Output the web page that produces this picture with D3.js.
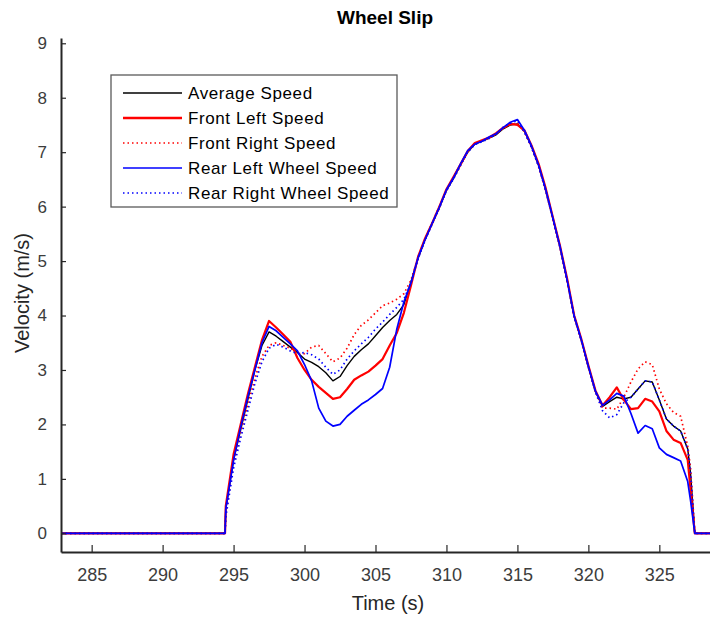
<!DOCTYPE html>
<html>
<head>
<meta charset="utf-8">
<script src="https://cdn.jsdelivr.net/npm/d3@7/dist/d3.min.js"></script>
<style>
  html, body { margin: 0; padding: 0; background: #fff; }
  svg { display: block; font-family: "Liberation Sans", Arial, sans-serif; }
</style>
</head>
<body>
<svg id="chart" width="710" height="622"></svg>
<script>
// ---- data ----
const seriesNames = ["Average Speed", "Front Left Speed", "Front Right Speed", "Rear Left Wheel Speed", "Rear Right Wheel Speed"];
const xTicks = [285, 290, 295, 300, 305, 310, 315, 320, 325];
const yTicks = [0, 1, 2, 3, 4, 5, 6, 7, 8, 9];

const time = [282.84, 294.4, 294.45, 295, 295.5, 296, 296.5, 297, 297.5, 298, 298.5, 299, 299.5,
  300, 300.5, 301, 301.5, 302, 302.5, 303, 303.5, 304, 304.5, 305, 305.5, 306, 306.5, 307, 307.5,
  308, 308.5, 309, 309.5, 310, 310.5, 311, 311.5, 312, 312.5, 313, 313.5, 314, 314.5, 315, 315.5,
  316, 316.5, 317, 317.5, 318, 318.5, 319, 319.5, 320, 320.5, 321, 321.5, 322, 322.5, 323, 323.5,
  324, 324.5, 325, 325.5, 326, 326.5, 327, 327.2, 327.5, 328.57];

const averageSpeed = [0, 0, 0.45, 1.35, 1.9, 2.45, 3.0, 3.45, 3.7, 3.62, 3.52, 3.42, 3.32,
  3.2, 3.14, 3.06, 2.95, 2.8, 2.88, 3.08, 3.25, 3.37, 3.48, 3.63, 3.78, 3.91, 4.02, 4.2, 4.62,
  5.05, 5.4, 5.69, 5.98, 6.3, 6.52, 6.77, 7.0, 7.15, 7.2, 7.26, 7.32, 7.43, 7.5, 7.52, 7.38,
  7.1, 6.75, 6.3, 5.78, 5.26, 4.65, 3.98, 3.55, 3.06, 2.6, 2.33, 2.42, 2.5, 2.47, 2.5, 2.65,
  2.8, 2.78, 2.45, 2.1, 1.97, 1.88, 1.55, 1.1, 0, 0];

const frontLeft = [0, 0, 0.5, 1.45, 2.0, 2.55, 3.05, 3.55, 3.9, 3.78, 3.65, 3.52, 3.22,
  3.0, 2.82, 2.69, 2.58, 2.47, 2.5, 2.65, 2.82, 2.9, 2.97, 3.08, 3.2, 3.45, 3.68, 4.05, 4.55,
  5.08, 5.42, 5.7, 6.0, 6.32, 6.55, 6.78, 7.02, 7.17, 7.22, 7.27, 7.35, 7.45, 7.52, 7.5, 7.4,
  7.12, 6.78, 6.33, 5.8, 5.28, 4.68, 4.0, 3.57, 3.08, 2.62, 2.35, 2.5, 2.68, 2.45, 2.28, 2.3,
  2.47, 2.42, 2.24, 1.88, 1.72, 1.66, 1.35, 0.8, 0, 0];

const frontRight = [0, 0, 0.35, 1.3, 1.85, 2.35, 2.85, 3.25, 3.45, 3.5, 3.45, 3.4, 3.3,
  3.3, 3.42, 3.45, 3.3, 3.15, 3.22, 3.4, 3.65, 3.82, 3.92, 4.05, 4.18, 4.23, 4.3, 4.4, 4.65,
  5.07, 5.41, 5.71, 6.0, 6.3, 6.54, 6.78, 7.01, 7.16, 7.21, 7.26, 7.33, 7.44, 7.5, 7.54, 7.37,
  7.09, 6.74, 6.28, 5.77, 5.25, 4.64, 3.98, 3.54, 3.05, 2.6, 2.3, 2.3, 2.28, 2.5, 2.78, 3.02,
  3.15, 3.1, 2.65, 2.38, 2.22, 2.15, 1.6, 1.2, 0, 0];

const rearLeft = [0, 0, 0.45, 1.35, 1.95, 2.5, 3.0, 3.5, 3.8, 3.72, 3.6, 3.48, 3.35,
  3.1, 2.8, 2.3, 2.06, 1.97, 2.0, 2.15, 2.26, 2.37, 2.45, 2.55, 2.66, 3.05, 3.75, 4.25, 4.6,
  5.06, 5.4, 5.7, 5.99, 6.31, 6.53, 6.79, 7.03, 7.15, 7.2, 7.28, 7.34, 7.45, 7.55, 7.6, 7.4,
  7.11, 6.76, 6.31, 5.79, 5.27, 4.66, 3.99, 3.56, 3.07, 2.61, 2.35, 2.45, 2.57, 2.52, 2.2, 1.84,
  1.98, 1.92, 1.57, 1.45, 1.39, 1.33, 0.95, 0.6, 0, 0];

const rearRight = [0, 0, 0.3, 1.2, 1.75, 2.25, 2.75, 3.15, 3.4, 3.47, 3.42, 3.35, 3.3,
  3.32, 3.28, 3.2, 3.05, 2.92, 3.0, 3.2, 3.35, 3.48, 3.6, 3.75, 3.88, 4.02, 4.15, 4.3, 4.6,
  5.04, 5.39, 5.68, 5.97, 6.29, 6.51, 6.76, 7.0, 7.14, 7.19, 7.25, 7.33, 7.46, 7.53, 7.58, 7.36,
  7.08, 6.73, 6.29, 5.77, 5.25, 4.64, 3.97, 3.54, 3.05, 2.59, 2.25, 2.12, 2.18, 2.4, 2.5, 2.65,
  2.8, 2.78, 2.45, 2.1, 1.97, 1.88, 1.55, 1.1, 0, 0];

// ---- layout ----
const svg = d3.select("#chart");
const x = d3.scaleLinear().domain([282.84, 328.57]).range([61, 710]);
const y = d3.scaleLinear().domain([-0.343, 9.097]).range([552, 38]);

const styles = [
  { data: averageSpeed, color: "#000000", width: 1.4, dash: null },
  { data: frontLeft,    color: "#ff0000", width: 2.2, dash: null },
  { data: frontRight,   color: "#ff0000", width: 1.7, dash: "1.5,3" },
  { data: rearLeft,     color: "#0000ff", width: 1.7, dash: null },
  { data: rearRight,    color: "#0000ff", width: 1.7, dash: "1.5,3" }
];

// draw in legend order (last series on top)
const line = d3.line().x((d, i) => x(time[i])).y(d => y(d));

svg.append("clipPath").attr("id", "clip").append("rect")
  .attr("x", 61).attr("y", 38).attr("width", 649).attr("height", 514);

const plot = svg.append("g").attr("clip-path", "url(#clip)");
styles.forEach(s => {
  plot.append("path")
    .attr("d", line(s.data))
    .attr("fill", "none")
    .attr("stroke", s.color)
    .attr("stroke-width", s.width)
    .attr("stroke-dasharray", s.dash)
    .attr("stroke-linejoin", "round");
});

// ---- axes ----
const axisColor = "#262626";
const labelColor = "#3c3c3c";

const xAxis = d3.axisBottom(x).tickValues(xTicks).tickSize(-7).tickPadding(16).tickSizeOuter(0);
const gx = svg.append("g").attr("transform", "translate(0,552)").call(xAxis);
gx.select(".domain").attr("stroke", axisColor).attr("stroke-width", 2);
gx.selectAll(".tick line").attr("stroke", axisColor).attr("stroke-width", 1.2);
gx.selectAll(".tick text").attr("fill", labelColor).attr("font-size", 18)
  .attr("font-family", "Liberation Sans, Arial, sans-serif");

const yAxis = d3.axisLeft(y).tickValues(yTicks).tickSize(-5).tickPadding(14).tickSizeOuter(0);
const gy = svg.append("g").attr("transform", "translate(61,0)").call(yAxis);
gy.select(".domain").attr("stroke", axisColor).attr("stroke-width", 2);
gy.selectAll(".tick line").attr("stroke", axisColor).attr("stroke-width", 1.2);
gy.selectAll(".tick text").attr("fill", labelColor).attr("font-size", 17)
  .attr("font-family", "Liberation Sans, Arial, sans-serif");

// ---- labels ----
svg.append("text").attr("x", 385).attr("y", 24).attr("text-anchor", "middle")
  .attr("font-size", 19).attr("font-weight", "bold").attr("fill", "#000").text("Wheel Slip");

svg.append("text").attr("x", 388).attr("y", 610).attr("text-anchor", "middle")
  .attr("font-size", 20).attr("fill", "#262626").text("Time (s)");

svg.append("text").attr("transform", "translate(29,293) rotate(-90)").attr("text-anchor", "middle")
  .attr("font-size", 20).attr("fill", "#262626").text("Velocity (m/s)");

// ---- legend ----
const lg = svg.append("g");
lg.append("rect").attr("x", 111).attr("y", 75).attr("width", 286).attr("height", 132)
  .attr("fill", "#fff").attr("stroke", "#5a5a5a").attr("stroke-width", 1.3);
const rowY = [93, 118, 143, 168, 193];
seriesNames.forEach((name, i) => {
  const s = styles[i];
  lg.append("line").attr("x1", 123).attr("x2", 182).attr("y1", rowY[i]).attr("y2", rowY[i])
    .attr("stroke", s.color).attr("stroke-width", i === 1 ? 2.5 : (s.dash ? 1.5 : 1.4))
    .attr("stroke-dasharray", s.dash);
  lg.append("text").attr("x", 188).attr("y", rowY[i]).attr("dy", "0.35em")
    .attr("font-size", 17).attr("letter-spacing", 0.6).attr("fill", "#000").text(name);
});
</script>
</body>
</html>
